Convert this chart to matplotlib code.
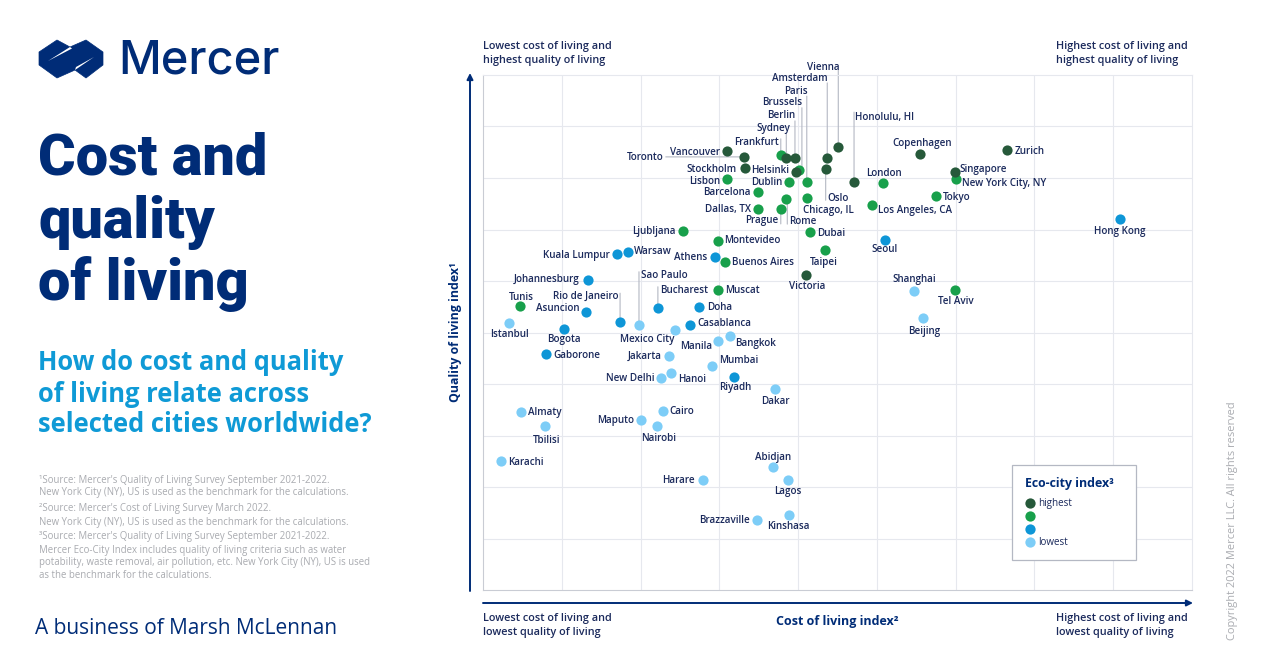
import matplotlib
matplotlib.use("Agg")
import matplotlib.pyplot as plt
from matplotlib.lines import Line2D
from matplotlib.patches import Polygon, Rectangle

NAVY = "#002c77"
INK = "#1b2a5c"
GREY = "#a9abb0"
plt.rcParams['font.family'] = ['Open Sans', 'DejaVu Sans']

###################################
# data, cost index / quality index per eco-city tier
highest_cities = ["Vienna", "Amsterdam", "Oslo", "Honolulu, HI", "Berlin", "Sydney", "Helsinki", "Stockholm",
                  "Toronto", "Vancouver", "Copenhagen", "Zurich", "Singapore", "Victoria"]
highest_cost = [45.1, 43.7, 43.5, 47.1, 39.6, 38.5, 39.7, 33.2, 33.1, 31.0, 55.5, 66.5, 59.9, 41.0]
highest_quality = [86.0, 83.9, 81.7, 79.2, 83.9, 83.9, 81.2, 81.9, 84.1, 85.2, 84.7, 85.4, 81.2, 61.2]

high_cities = ["Paris", "Brussels", "Frankfurt", "Chicago, IL", "Dublin", "Barcelona", "Dallas, TX", "Prague", "Rome",
               "Dubai", "Ljubljana", "Montevideo", "London", "Los Angeles, CA", "Lisbon", "New York City, NY", "Tokyo",
               "Taipei", "Buenos Aires", "Muscat", "Tel Aviv", "Tunis"]
high_cost = [41.1, 40.1, 37.8, 41.1, 38.8, 34.9, 34.9, 37.8, 38.5, 41.5, 25.4, 29.8, 50.8, 49.4, 31.0, 60.0, 57.5,
             43.4, 30.7, 29.8, 59.9, 4.7]
high_quality = [79.2, 81.6, 84.5, 76.1, 79.2, 77.3, 74.0, 74.0, 75.9, 69.5, 69.7, 67.8, 79.0, 74.8, 79.8, 79.8, 76.5,
                66.0, 63.7, 58.3, 58.3, 55.1]

low_cities = ["Hong Kong", "Seoul", "Athens", "Warsaw", "Kuala Lumpur", "Johannesburg", "Asuncion", "Bucharest", "Doha",
              "Rio de Janeiro", "Casablanca", "Bogota", "Gaborone", "Riyadh"]
low_cost = [80.8, 51.0, 29.4, 18.4, 17.0, 13.3, 13.1, 22.2, 27.4, 17.4, 26.3, 10.3, 8.0, 31.9]
low_quality = [72.0, 68.0, 64.7, 65.6, 65.2, 60.2, 54.0, 54.8, 55.0, 52.0, 51.5, 50.7, 45.8, 41.4]

lowest_cities = ["Shanghai", "Beijing", "Sao Paulo", "Mexico City", "Istanbul", "Manila", "Bangkok", "Jakarta", "Mumbai",
                 "Hanoi", "New Delhi", "Dakar", "Almaty", "Tbilisi", "Cairo", "Maputo", "Nairobi", "Karachi", "Abidjan",
                 "Lagos", "Harare", "Brazzaville", "Kinshasa"]
lowest_cost = [54.7, 55.8, 19.8, 24.4, 3.3, 29.8, 31.3, 23.6, 29.1, 23.9, 22.6, 37.1, 4.8, 7.9, 22.8, 20.1, 22.1, 2.3,
               36.8, 38.7, 27.9, 34.8, 38.8]
lowest_quality = [58.1, 52.8, 51.5, 50.5, 51.8, 48.3, 49.3, 45.4, 43.5, 42.1, 41.2, 39.0, 34.6, 31.8, 34.8, 33.0, 31.8,
                  25.0, 23.9, 21.4, 21.4, 13.6, 14.6]

# label placement relative to the marker, pixels
label_pos = {
    "Vienna": (1, 81, "right"), "Amsterdam": (0, 80, "right"), "Paris": (1, 92, "right"), "Brussels": (3, 68, "right"),
    "Berlin": (0, 43, "right"), "Sydney": (4, 30, "right"), "Frankfurt": (-2, 13, "right"),
    "Honolulu, HI": (1, 66, "left"), "Toronto": (-80, 0, "right"), "Vancouver": (-7, 0, "right"),
    "Stockholm": (-8, 0, "right"), "Helsinki": (-7, 2, "right"), "Lisbon": (-7, -1, "right"),
    "Dublin": (-6, 1, "right"), "Barcelona": (-7, 0, "right"), "Oslo": (2, -28, "left"),
    "Chicago, IL": (-4, -11, "left"), "Dallas, TX": (-7, 0, "right"), "Prague": (-2, -11, "right"),
    "Rome": (3, -21, "left"), "Los Angeles, CA": (6, -5, "left"), "Dubai": (7, 0, "left"),
    "Ljubljana": (-7, 1, "right"), "Montevideo": (6, 1, "left"), "Copenhagen": (2, 11, "center"),
    "Zurich": (8, 0, "left"), "Singapore": (5, 3, "left"), "New York City, NY": (6, -3, "left"),
    "Tokyo": (7, 0, "left"), "London": (1, 11, "center"), "Hong Kong": (0, -11, "center"), "Seoul": (0, -9, "center"),
    "Taipei": (-1, -11, "center"), "Buenos Aires": (7, 0, "left"), "Athens": (-7, 0, "right"),
    "Warsaw": (6, 2, "left"), "Kuala Lumpur": (-7, 0, "right"), "Victoria": (1, -11, "center"),
    "Johannesburg": (-8, 1, "right"), "Muscat": (7, 0, "left"), "Tel Aviv": (1, -11, "center"),
    "Shanghai": (0, 12, "center"), "Beijing": (2, -12, "center"), "Tunis": (1, 10, "center"),
    "Asuncion": (-7, 4, "right"), "Bucharest": (2, 18, "left"), "Doha": (8, 0, "left"),
    "Rio de Janeiro": (-2, 27, "right"), "Sao Paulo": (2, 50, "left"), "Casablanca": (7, 2, "left"),
    "Mexico City": (-1, -9, "right"), "Istanbul": (1, -10, "center"), "Bogota": (0, -10, "center"),
    "Gaborone": (7, 0, "left"), "Manila": (-6, -4, "right"), "Bangkok": (6, -6, "left"), "Jakarta": (-7, 1, "right"),
    "Mumbai": (7, 6, "left"), "Riyadh": (1, -10, "center"), "Hanoi": (7, -5, "left"), "New Delhi": (-7, 0, "right"),
    "Dakar": (0, -11, "center"), "Almaty": (7, 0, "left"), "Tbilisi": (1, -13, "center"), "Cairo": (7, 0, "left"),
    "Maputo": (-7, 1, "right"), "Nairobi": (2, -11, "center"), "Karachi": (7, 0, "left"), "Abidjan": (0, 10, "center"),
    "Lagos": (0, -11, "center"), "Harare": (-8, 0, "right"), "Brazzaville": (-7, 0, "right"),
    "Kinshasa": (0, -11, "center"),
}

# leader lines: start and end offset from the marker, pixels
leaders = {
    "Vienna": (0, 0, 0, 77), "Amsterdam": (0, 0, 0, 75), "Paris": (0, 0, 0, 86), "Brussels": (3, 0, 3, 62),
    "Berlin": (0, 0, 0, 37), "Sydney": (0, 0, 0, 25), "Frankfurt": (0, 0, 0, 16), "Honolulu, HI": (0, 0, 0, 70),
    "Toronto": (0, 0, -78, 0), "Oslo": (0, 0, 0, -31), "Rome": (1, 0, 1, -25), "Prague": (0, 0, 0, -15),
    "Bucharest": (0, 0, 0, 21), "Rio de Janeiro": (0, 0, 0, 29), "Sao Paulo": (0, 0, 0, 53),
}

###################################
fig = plt.figure(figsize=(12.8, 6.69), dpi=100, facecolor="white")

# page layer in pixels, for the panel text and logo
page = fig.add_axes([0, 0, 1, 1], zorder=0)
page.set_xlim(0, 1280)
page.set_ylim(669, 0)
page.axis("off")

# logo
page.add_patch(Polygon([(39, 52), (57, 40), (70, 47), (86, 40), (103, 52), (103, 65), (86, 78), (75, 70), (57, 78),
                        (39, 65)], closed=True, fc=NAVY, ec=NAVY, lw=0.5))
page.add_patch(Polygon([(48, 61), (70, 47), (72, 48.5)], closed=True, fc="white", ec="none"))
page.add_patch(Polygon([(75, 70), (94, 57), (76, 67)], closed=True, fc="white", ec="none"))
page.text(118, 61, "Mercer", color=NAVY, fontsize=33.8, family="Inter", fontweight=500, va="center", ha="left")

for y, line in zip([159, 222, 284], ["Cost and", "quality", "of living"]):
    page.text(38, y, line, color=NAVY, fontsize=41.5, family="Roboto", fontweight=900, va="center", ha="left")
for y, line in zip([363, 394, 424], ["How do cost and quality", "of living relate across",
                                     "selected cities worldwide?"]):
    page.text(38, y, line, color="#0f9ad6", fontsize=18.4, fontweight=700, va="center", ha="left")

footnotes = [(481, "¹Source: Mercer's Quality of Living Survey September 2021-2022."),
             (493, "New York City (NY), US is used as the benchmark for the calculations."),
             (509, "²Source: Mercer's Cost of Living Survey March 2022."),
             (522, "New York City (NY), US is used as the benchmark for the calculations."),
             (537, "³Source: Mercer's Quality of Living Survey September 2021-2022."),
             (550, "Mercer Eco-City Index includes quality of living criteria such as water"),
             (563, "potability, waste removal, air pollution, etc. New York City (NY), US is used"),
             (575, "as the benchmark for the calculations.")]
for y, line in footnotes:
    page.text(39, y, line, color=GREY, fontsize=6.95, va="center", ha="left")
page.text(35, 628, "A business of Marsh McLennan", color=NAVY, fontsize=15, va="center", ha="left")

# corner notes
corners = [(483, 47, "Lowest cost of living and"), (483, 60, "highest quality of living"),
           (1056, 47, "Highest cost of living and"), (1056, 60, "highest quality of living"),
           (483, 619, "Lowest cost of living and"), (483, 632, "lowest quality of living"),
           (1056, 619, "Highest cost of living and"), (1056, 632, "lowest quality of living")]
for x, y, line in corners:
    page.text(x, y, line, color=INK, fontsize=7.85, fontweight=600, va="center", ha="left")

# axis arrows
page.annotate("", xy=(470, 73), xytext=(470, 591),
              arrowprops=dict(arrowstyle="-|>", color=NAVY, lw=1.4, shrinkA=0, shrinkB=0, mutation_scale=9))
page.annotate("", xy=(1193, 603), xytext=(483, 603),
              arrowprops=dict(arrowstyle="-|>", color=NAVY, lw=1.4, shrinkA=0, shrinkB=0, mutation_scale=9))
page.text(1232, 521, "Copyright 2022 Mercer LLC. All rights reserved", color=GREY, fontsize=7.9, rotation=90,
          va="center", ha="center")

###################################
# chart
ax = fig.add_axes([483 / 1280, (669 - 590) / 669, 709 / 1280, 515 / 669], zorder=1)
ax.patch.set_alpha(0)
ax.set_xlim(0, 90)
ax.set_ylim(0, 100)
ax.set_xticks(range(10, 90, 10))
ax.set_yticks(range(10, 100, 10))
ax.tick_params(length=0, labelleft=False, labelbottom=False)
ax.grid(which="major", color="#e6e8ee", linewidth=0.8)
ax.set_axisbelow(True)
for side in ["top", "right"]:
    ax.spines[side].set_color("#e6e8ee")
for side in ["left", "bottom"]:
    ax.spines[side].set_color("#c9ccd4")
ax.set_xlabel("Cost of living index²", color=NAVY, fontsize=9, fontweight=700, labelpad=18)
ax.set_ylabel("Quality of living index¹", color=NAVY, fontsize=8.9, fontweight=700, labelpad=15)

tiers = [(lowest_cities, lowest_cost, lowest_quality, "#7dcdf7", "lowest"),
         (low_cities, low_cost, low_quality, "#0e96d7", " "),
         (high_cities, high_cost, high_quality, "#18a04b", " "),
         (highest_cities, highest_cost, highest_quality, "#26593a", "highest")]

for cities, cost, quality, colour, _ in tiers:
    ax.scatter(cost, quality, s=54, color=colour, linewidths=0, zorder=3)
    for name, x, y in zip(cities, cost, quality):
        dx, dy, ha = label_pos[name]
        ax.annotate(name, xy=(x, y), xytext=(dx, dy - 1), textcoords="offset pixels", color=INK, fontsize=7.1,
                    fontweight=600, ha=ha, va="center", zorder=4)
        if name in leaders:
            x0, y0, x1, y1 = leaders[name]
            start = ax.transData.transform((x, y))
            tip = ax.transData.inverted().transform((start[0] + x0, start[1] + y0))
            ax.annotate("", xy=tip, xytext=(x1 - x0, y1 - y0), textcoords="offset pixels", annotation_clip=False,
                        arrowprops=dict(arrowstyle="-", color="#b4b8c3", lw=0.8, shrinkA=0, shrinkB=0), zorder=2)

# legend box
ax.add_patch(Rectangle(((1012 - 483) / 709, (590 - 560) / 515), 124 / 709, 95 / 515, transform=ax.transAxes,
                       fc="white", ec="#b4b8c3", lw=0.9, zorder=5))
handles = [Line2D([], [], linestyle="", marker="o", markersize=7.4, markeredgewidth=0, color=t[3], label=t[4])
           for t in reversed(tiers)]
legend = ax.legend(handles=handles, title="Eco-city index³", loc="lower left",
                   bbox_to_anchor=((1025 - 483) / 709, (590 - 548) / 515), fontsize=7.1, labelcolor=INK,
                   frameon=False, alignment="left", labelspacing=0.2, handlelength=1.0, handletextpad=0.35,
                   borderpad=0, borderaxespad=0, title_fontproperties={"weight": 700, "size": 8.9})
legend.get_title().set_color(NAVY)
legend._legend_box.sep = 5.8  # gap under the title, no public option for it
legend.set_zorder(6)

fig.savefig("out.png", dpi=100)
